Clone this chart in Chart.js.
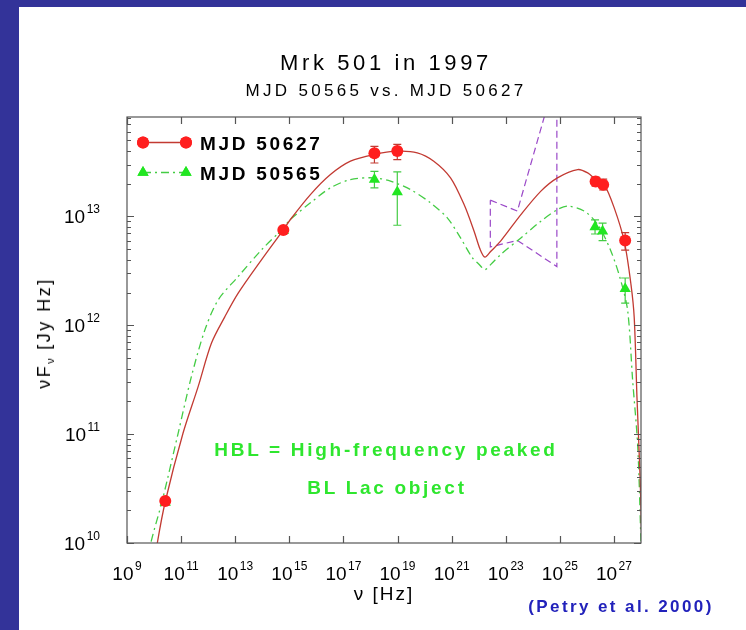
<!DOCTYPE html>
<html>
<head>
<meta charset="utf-8">
<title>Mrk 501 in 1997</title>
<script src="https://cdn.jsdelivr.net/npm/chart.js@4.4.1/dist/chart.umd.min.js"></script>
<style>
  html, body { margin: 0; padding: 0; }
  body {
    width: 746px; height: 630px; overflow: hidden; position: relative;
    background: #333399;
    font-family: "Liberation Sans", Arial, Helvetica, sans-serif;
  }
  #sheet { position: absolute; left: 19px; top: 7px; right: 0; bottom: 0; background: #fff; }
  #sed { position: absolute; left: 0; top: 0; }
  .txt { position: absolute; white-space: nowrap; transform: translate(-50%, -50%); color: #000; }
  #title { left: 386px; top: 63px; font-size: 22px; letter-spacing: 3.6px; }
  #subtitle { left: 386px; top: 91px; font-size: 17px; letter-spacing: 3.3px; }
  #xtitle { left: 384px; top: 594px; font-size: 19px; letter-spacing: 2px; }
  #ytitle { left: 45px; top: 333px; font-size: 18px; letter-spacing: 2.5px; transform: translate(-50%, -50%) rotate(-90deg); }
  #ytitle sub { font-size: 11px; vertical-align: -4px; letter-spacing: 1px; }
  .hbl { font-weight: bold; font-size: 19px; letter-spacing: 2.7px; color: #2ee62e; }
  #hbl1 { left: 386px; top: 450px; }
  #hbl2 { left: 387px; top: 488px; }
  #credit { left: 621px; top: 607px; font-weight: bold; font-size: 17px; letter-spacing: 2.4px; color: #2222bb; }
</style>
</head>
<body>
<div id="sheet"></div>
<canvas id="sed" width="746" height="630"></canvas>
<div class="txt" id="title">Mrk 501 in 1997</div>
<div class="txt" id="subtitle">MJD 50565 vs. MJD 50627</div>
<div class="txt" id="xtitle">&nu; [Hz]</div>
<div class="txt" id="ytitle">&nu;F<sub>&nu;</sub> [Jy Hz]</div>
<div class="txt hbl" id="hbl1">HBL = High-frequency peaked</div>
<div class="txt hbl" id="hbl2">BL Lac object</div>
<div class="txt" id="credit">(Petry et al. 2000)</div>
<script>
// tick labels (powers of ten)
const xTickExps = [9, 11, 13, 15, 17, 19, 21, 23, 25, 27];
const yTickExps = [10, 11, 12, 13];

// observed points, MJD 50627
const nu50627 = [2.6e10, 6.0e14, 1.4e18, 9.8e18, 2.1e26, 4.0e26, 2.6e27];
const flux50627 = [2.43e10, 7.5e12, 3.8e13, 4.0e13, 2.1e13, 1.96e13, 6.0e12];
const errLo50627 = [null, null, 3.1e13, 3.33e13, 1.9e13, 1.75e13, 4.9e12];
const errHi50627 = [null, null, 4.4e13, 4.6e13, 2.3e13, 2.2e13, 7.1e12];

// observed points, MJD 50565
const nu50565 = [2.6e10, 6.0e14, 1.4e18, 9.8e18, 2.0e26, 3.8e26, 2.6e27];
const flux50565 = [2.35e10, 7.4e12, 2.18e13, 1.68e13, 8.0e12, 7.3e12, 2.17e12];
const errLo50565 = [null, null, 1.83e13, 8.3e12, 6.9e12, 6.0e12, 1.6e12];
const errHi50565 = [null, null, 2.6e13, 2.57e13, 9.3e12, 8.7e12, 2.72e12];

// SSC model curves, log10(nu) and log10(nuFnu)
const model50627LogNu = [10.05, 10.12, 10.42, 11.07, 11.63, 12.12, 12.62, 13.11, 13.97, 14.78, 15.04, 15.78, 16.52, 17.26, 18.12, 18.99, 19.73, 20.34, 20.96, 21.46, 21.83, 22.05, 22.23, 22.45, 22.81, 23.56, 24.30, 24.91, 25.66, 26.03, 26.33, 26.64, 27.01, 27.38, 27.63, 27.75, 27.85, 27.97, 28.03];
const model50627LogF = [9.85, 10.0, 10.386, 11.008, 11.437, 11.835, 12.08, 12.295, 12.601, 12.877, 12.972, 13.201, 13.385, 13.508, 13.569, 13.60, 13.585, 13.508, 13.355, 13.109, 12.865, 12.70, 12.626, 12.68, 12.773, 13.017, 13.233, 13.355, 13.431, 13.40, 13.339, 13.293, 13.079, 12.773, 12.374, 12.068, 11.345, 10.579, 10.0];
const model50565LogNu = [9.80, 9.88, 10.30, 10.89, 11.38, 11.88, 12.37, 13.11, 13.97, 14.71, 15.04, 15.78, 16.52, 17.26, 18.12, 18.74, 19.48, 20.22, 20.84, 21.33, 21.77, 22.0, 22.23, 22.45, 22.81, 23.56, 24.30, 24.91, 25.29, 25.90, 26.40, 26.89, 27.26, 27.51, 27.69, 27.88, 28.0];
const model50565LogF = [9.85, 10.0, 10.386, 11.008, 11.528, 11.958, 12.233, 12.448, 12.693, 12.877, 12.972, 13.125, 13.263, 13.339, 13.355, 13.324, 13.247, 13.125, 12.987, 12.803, 12.619, 12.564, 12.512, 12.56, 12.65, 12.803, 12.957, 13.063, 13.095, 13.049, 12.926, 12.681, 12.405, 12.13, 11.498, 10.885, 10.0];

// gamma-ray bow-tie, log10 values
const bowtieLogNu = [22.43, 23.43, 24.89, 24.89, 23.43, 22.43, 22.43];
const bowtieLogF = [13.15, 13.05, 14.32, 12.54, 12.78, 12.72, 13.15];

const RED = '#ff1f1f';
const RED_LINE = '#c23a32';
const GREEN = '#22e622';
const GREEN_LINE = '#44cc44';
const PURPLE = '#9a48c8';
const FONT = '"Liberation Sans", Arial, Helvetica, sans-serif';

const pts = (xs, ys) => xs.map((x, i) => ({ x: x, y: ys[i] }));
const logPts = (xs, ys) => xs.map((x, i) => ({ x: Math.pow(10, x), y: Math.pow(10, ys[i]) }));

// error bars drawn just before their point dataset
const errorBars = {
    id: 'errorBars',
    beforeDatasetDraw(chart, args) {
        const ds = chart.data.datasets[args.index];
        if (!ds.errLo) return;
        const { ctx, scales: { x, y } } = chart;
        ctx.save();
        ctx.strokeStyle = ds.errColor;
        ctx.lineWidth = 1.2;
        ds.data.forEach((p, i) => {
            if (ds.errLo[i] == null) return;
            const px = x.getPixelForValue(p.x);
            const y0 = y.getPixelForValue(ds.errLo[i]);
            const y1 = y.getPixelForValue(ds.errHi[i]);
            ctx.beginPath();
            ctx.moveTo(px, y0); ctx.lineTo(px, y1);
            ctx.moveTo(px - 4, y0); ctx.lineTo(px + 4, y0);
            ctx.moveTo(px - 4, y1); ctx.lineTo(px + 4, y1);
            ctx.stroke();
        });
        ctx.restore();
    }
};

// box, inward ticks on all sides, 10^n labels
const frame = {
    id: 'frame',
    afterDraw(chart) {
        const { ctx, chartArea: a, scales: { x, y } } = chart;
        ctx.save();
        ctx.strokeStyle = '#555';
        ctx.lineWidth = 1.2;
        ctx.strokeRect(a.left, a.top, a.right - a.left, a.bottom - a.top);

        ctx.beginPath();
        xTickExps.forEach(e => {
            const px = Math.round(x.getPixelForValue(Math.pow(10, e))) + 0.5;
            ctx.moveTo(px, a.bottom); ctx.lineTo(px, a.bottom - 7);
            ctx.moveTo(px, a.top); ctx.lineTo(px, a.top + 7);
        });
        for (let e = yTickExps[0]; e <= 13; e++) {
            for (let m = 1; m <= 9; m++) {
                const v = m * Math.pow(10, e);
                if (v < y.min || v > y.max) continue;
                const py = Math.round(y.getPixelForValue(v)) + 0.5;
                const len = m === 1 ? 7 : 4;
                ctx.moveTo(a.left, py); ctx.lineTo(a.left + len, py);
                ctx.moveTo(a.right, py); ctx.lineTo(a.right - len, py);
            }
        }
        ctx.stroke();

        ctx.fillStyle = '#000';
        ctx.textBaseline = 'alphabetic';
        const base = '19px ' + FONT;
        const sup = '12px ' + FONT;
        const gap = 1.5;
        const labelSize = e => {
            ctx.font = base;
            const w1 = ctx.measureText('10').width;
            ctx.font = sup;
            const w2 = ctx.measureText(String(e)).width;
            return [w1, w2];
        };
        const drawLabel = (e, left, baseline) => {
            const [w1] = labelSize(e);
            ctx.font = base;
            ctx.textAlign = 'left';
            ctx.fillText('10', left, baseline);
            ctx.font = sup;
            ctx.fillText(String(e), left + w1 + gap, baseline - 10);
        };
        xTickExps.forEach(e => {
            const px = x.getPixelForValue(Math.pow(10, e));
            const [w1, w2] = labelSize(e);
            drawLabel(e, px - (w1 + gap + w2) / 2, a.bottom + 37);
        });
        yTickExps.forEach(e => {
            const py = y.getPixelForValue(Math.pow(10, e));
            const [w1, w2] = labelSize(e);
            drawLabel(e, a.left - 27 - (w1 + gap + w2), py + 7);
        });
        ctx.restore();
    }
};

// legend in the upper left corner of the plot
const keyBox = {
    id: 'keyBox',
    afterDraw(chart) {
        const { ctx } = chart;
        const drawPt = (style, r, color, px, py) => {
            ctx.fillStyle = color;
            Chart.helpers.drawPoint(ctx, { pointStyle: style, radius: r, rotation: 0, borderWidth: 0 }, px, py);
            ctx.fill();
        };
        ctx.save();
        ctx.lineWidth = 1.3;
        ctx.strokeStyle = RED_LINE;
        ctx.beginPath(); ctx.moveTo(143, 142.5); ctx.lineTo(186, 142.5); ctx.stroke();
        drawPt('circle', 6, RED, 143, 142.5);
        drawPt('circle', 6, RED, 186, 142.5);

        ctx.strokeStyle = GREEN_LINE;
        ctx.setLineDash([8, 4, 2, 4]);
        ctx.beginPath(); ctx.moveTo(143, 172.5); ctx.lineTo(186, 172.5); ctx.stroke();
        ctx.setLineDash([]);
        drawPt('triangle', 6.5, GREEN, 143, 172.5);
        drawPt('triangle', 6.5, GREEN, 186, 172.5);

        ctx.fillStyle = '#000';
        ctx.font = 'bold 19px ' + FONT;
        ctx.textAlign = 'left';
        ctx.letterSpacing = '2.7px';
        ctx.fillText('MJD 50627', 200, 150);
        ctx.fillText('MJD 50565', 200, 180);
        ctx.restore();
    }
};

const ctx = document.getElementById('sed').getContext('2d');

const chart = new Chart(ctx, {
    type: 'scatter',
    data: {
        datasets: [
            {
                label: 'MJD 50627',
                data: pts(nu50627, flux50627),
                errLo: errLo50627,
                errHi: errHi50627,
                errColor: RED_LINE,
                pointStyle: 'circle',
                pointRadius: 6,
                backgroundColor: RED,
                borderWidth: 0,
                showLine: false
            },
            {
                label: 'MJD 50565',
                data: pts(nu50565, flux50565),
                errLo: errLo50565,
                errHi: errHi50565,
                errColor: GREEN_LINE,
                pointStyle: 'triangle',
                pointRadius: 6.5,
                backgroundColor: GREEN,
                borderWidth: 0,
                showLine: false
            },
            {
                label: 'model 50627',
                data: logPts(model50627LogNu, model50627LogF),
                showLine: true,
                borderColor: RED_LINE,
                borderWidth: 1.3,
                pointRadius: 0,
                tension: 0.3
            },
            {
                label: 'model 50565',
                data: logPts(model50565LogNu, model50565LogF),
                showLine: true,
                borderColor: GREEN_LINE,
                borderWidth: 1.3,
                borderDash: [8, 4, 2, 4],
                pointRadius: 0,
                tension: 0.3
            },
            {
                label: 'bow-tie',
                data: logPts(bowtieLogNu, bowtieLogF),
                showLine: true,
                borderColor: PURPLE,
                borderWidth: 1.2,
                borderDash: [7, 4],
                pointRadius: 0,
                tension: 0
            }
        ]
    },
    options: {
        responsive: false,
        animation: false,
        events: [],
        layout: {
            padding: { left: 127, right: 105, top: 117, bottom: 87 }
        },
        plugins: {
            legend: { display: false },
            tooltip: { enabled: false }
        },
        scales: {
            x: { type: 'logarithmic', display: false, min: 1e9, max: 1e28 },
            y: { type: 'logarithmic', display: false, min: 1e10, max: 8.2e13 }
        }
    },
    plugins: [errorBars, frame, keyBox]
});
</script>
</body>
</html>
